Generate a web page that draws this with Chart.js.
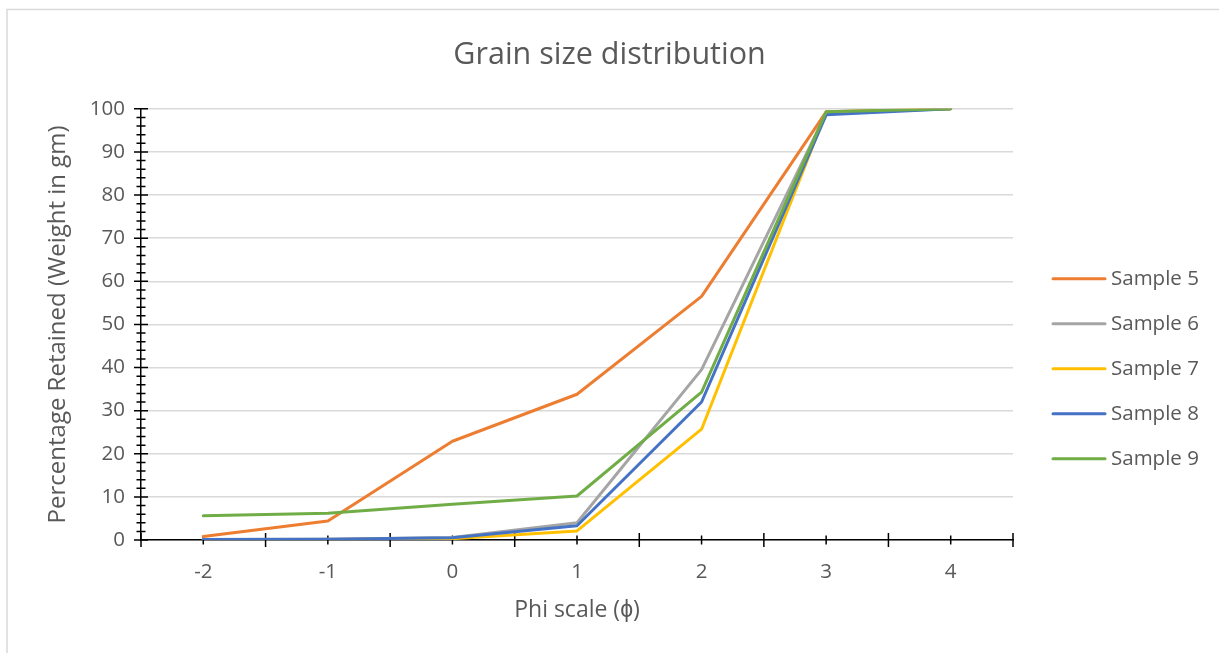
<!DOCTYPE html>
<html><head><meta charset="utf-8">
<script src="https://cdn.jsdelivr.net/npm/chart.js@4"></script>
<style>html,body{margin:0;padding:0;background:#fff}</style>
</head><body>
<canvas id="c" width="1219" height="653"></canvas>
<script>
const categories = ['-2', '-1', '0', '1', '2', '3', '4'];
const seriesNames = ['Sample 5', 'Sample 6', 'Sample 7', 'Sample 8', 'Sample 9'];
const sample5 = [0.8, 4.4, 22.9, 33.8, 56.5, 99.3, 100];
const sample6 = [0.1, 0.2, 0.6, 4.0, 39.5, 99.0, 100];
const sample7 = [0.0, 0.1, 0.3, 2.1, 25.7, 99.2, 100];
const sample8 = [0.1, 0.2, 0.5, 3.3, 32.0, 98.6, 100];
const sample9 = [5.6, 6.2, 8.3, 10.2, 34.3, 99.3, 100];
const seriesColors = ['#ED7D31', '#A5A5A5', '#FFC000', '#4472C4', '#70AD47'];
const yMin = 0, yMax = 100, yMajorStep = 10, yMinorStep = 2;

const FONT = '"Open Sans", sans-serif';
const TEXT = '#595959';
const allSeries = [sample5, sample6, sample7, sample8, sample9];

const frame = {
  id: 'frame',
  afterLayout(chart) {
    const t = chart.titleBlock;
    if (t) { t.left = 0; t.right = chart.width; t.width = chart.width; }
  },
  beforeDraw(chart) {
    const ctx = chart.ctx;
    ctx.save();
    ctx.fillStyle = '#fff';
    ctx.fillRect(0, 0, chart.width, chart.height);
    ctx.strokeStyle = '#d9d9d9';
    ctx.lineWidth = 1.5;
    ctx.strokeRect(7, 9.5, chart.width + 20, chart.height + 20);
    ctx.restore();
  }
};

const axisTicks = {
  id: 'axisTicks',
  beforeDatasetsDraw(chart) {
    const ctx = chart.ctx, xs = chart.scales.x, ys = chart.scales.y;
    const ca = chart.chartArea;
    ctx.save();
    ctx.strokeStyle = '#000';
    ctx.lineWidth = 1.5;
    ctx.beginPath();
    for (let v = yMin; v <= yMax; v += yMinorStep) {
      const y = ys.getPixelForValue(v);
      const len = (v % yMajorStep === 0) ? 7 : 4.5;
      ctx.moveTo(ca.left - len, y);
      ctx.lineTo(ca.left + len, y);
    }
    for (let i = 0; i <= categories.length; i++) {
      const xb = xs.getPixelForValue(i - 0.5);
      ctx.moveTo(xb, ca.bottom - 7);
      ctx.lineTo(xb, ca.bottom + 7);
    }
    for (let i = 0; i < categories.length; i++) {
      const xc = xs.getPixelForValue(i);
      ctx.moveTo(xc, ca.bottom - 4.5);
      ctx.lineTo(xc, ca.bottom + 4.5);
    }
    ctx.stroke();
    ctx.restore();
  }
};

const sideLegend = {
  id: 'sideLegend',
  afterDraw(chart) {
    const ctx = chart.ctx, ca = chart.chartArea;
    const x0 = ca.right + 40, top = ca.top + 170, gap = 45;
    ctx.save();
    ctx.font = '20.5px ' + FONT;
    ctx.textBaseline = 'middle';
    ctx.textAlign = 'left';
    chart.data.datasets.forEach((ds, i) => {
      const y = top + i * gap;
      ctx.strokeStyle = ds.borderColor;
      ctx.lineWidth = 3;
      ctx.lineCap = 'round';
      ctx.beginPath();
      ctx.moveTo(x0, y);
      ctx.lineTo(x0 + 52, y);
      ctx.stroke();
      ctx.fillStyle = TEXT;
      ctx.fillText(ds.label, x0 + 58, y);
    });
    ctx.restore();
  }
};

new Chart(document.getElementById('c'), {
  type: 'line',
  data: {
    labels: categories,
    datasets: allSeries.map((d, i) => ({
      label: seriesNames[i],
      data: d,
      borderColor: seriesColors[i],
      backgroundColor: seriesColors[i],
      borderWidth: 3,
      pointRadius: 0,
      tension: 0,
      fill: false,
      borderJoinStyle: 'round',
      borderCapStyle: 'round',
      order: allSeries.length - 1 - i
    }))
  },
  options: {
    responsive: false,
    devicePixelRatio: 1,
    animation: false,
    layout: { padding: { left: 0, right: 206, top: 0, bottom: 0 } },
    plugins: {
      legend: { display: false },
      tooltip: { enabled: false },
      title: {
        display: true,
        text: 'Grain size distribution',
        color: TEXT,
        font: { family: FONT, size: 30.5, weight: 'normal' },
        padding: { top: 37.5, bottom: 34.7 }
      }
    },
    scales: {
      x: {
        type: 'category',
        offset: true,
        grid: { display: false, drawTicks: false },
        border: { display: true, color: '#000', width: 1.5 },
        ticks: { color: TEXT, font: { family: FONT, size: 20.5 }, padding: 20, maxRotation: 0 },
        title: {
          display: true, text: 'Phi scale (ϕ)', color: TEXT,
          font: { family: FONT, size: 23 }, padding: { top: 0, bottom: 29 }
        },
        afterFit(s) { s.height = 113; }
      },
      y: {
        min: yMin, max: yMax,
        ticks: { stepSize: yMajorStep, color: TEXT, font: { family: FONT, size: 20.5 }, padding: 16 },
        grid: { color: '#d9d9d9', lineWidth: 1.5, drawTicks: false },
        border: { display: true, color: '#000', width: 1.5 },
        title: {
          display: true, text: 'Percentage Retained (Weight in gm)', color: TEXT,
          font: { family: FONT, size: 24 }, padding: { top: 43.6, bottom: 0 }
        },
        afterFit(s) { s.width = 141; }
      }
    }
  },
  plugins: [frame, axisTicks, sideLegend]
});
</script>
</body></html>
